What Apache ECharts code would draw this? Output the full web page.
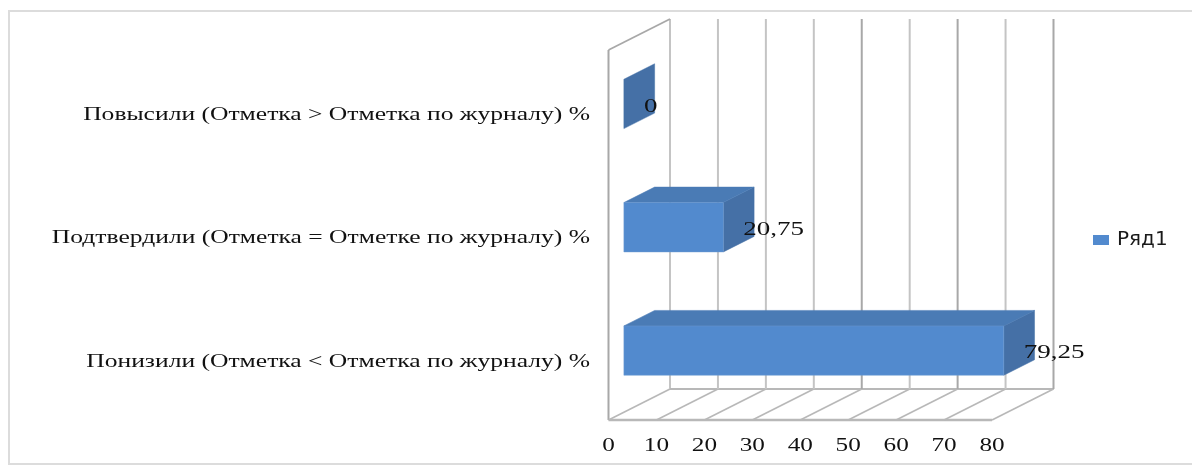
<!DOCTYPE html>
<html><head><meta charset="utf-8">
<style>html,body{margin:0;padding:0;background:#fff}#c{width:1192px;height:465px}</style>
<script src="https://cdn.jsdelivr.net/npm/echarts@6/dist/echarts.min.js"></script>
</head><body><div id="c"></div>
<script>
const categories = [
  'Понизили (Отметка < Отметка по журналу) %',
  'Подтвердили (Отметка = Отметке по журналу) %',
  'Повысили (Отметка > Отметка по журналу) %'
];
const values = [79.25, 20.75, 0];
const xTicks = [0, 10, 20, 30, 40, 50, 60, 70, 80];
const seriesName = 'Ряд1';

const DX = 61.5, DY = -31;           // oblique depth of the plot box
const FRONT = '#528ACE', TOP = '#4A7BB5', SIDE = '#4570A6';
const GRID = '#C4C4C4', FLOOR = '#B8B8B8', WALL = '#A8A8A8';
const DARK_TICKS = [40, 60, 80];
const SERIF = '"Liberation Serif"';

const chart = echarts.init(document.getElementById('c'), null, {renderer: 'canvas'});

function line(x1, y1, x2, y2, stroke, lineWidth) {
  return {type: 'line', shape: {x1, y1, x2, y2}, style: {stroke, lineWidth, fill: null}};
}
function poly(points, fill) {
  return {type: 'polygon', shape: {points}, style: {fill, stroke: fill, lineWidth: 0.5}};
}
function label(text, x, y, align, stretch) {
  return {type: 'text', x, y, scaleX: stretch, style: {
    text, fontFamily: SERIF, fontSize: 18, fill: '#111',
    align, verticalAlign: 'middle'}};
}

function renderBox(params, api) {
  const v = api.value(0);
  const bottom = api.coord([v, 0]);
  const band = api.size([0, 1])[1];
  const yBottom = bottom[1] + band / 2;
  const yTop = yBottom - band * 3;
  const x = bottom[0];
  const dark = DARK_TICKS.includes(v);
  const kids = [
    line(x, yBottom, x + DX, yBottom + DY, FLOOR, 1.6),
    line(x + DX, yTop + DY, x + DX, yBottom + DY, dark ? WALL : GRID, 2),
    label(String(v), x, yBottom + 26, 'center', 1.4)
  ];
  if (params.dataIndex === 0) {
    const xEnd = api.coord([xTicks[xTicks.length - 1], 0])[0];
    kids.push(line(x, yTop, x, yBottom, WALL, 2));
    kids.push(line(x, yTop, x + DX, yTop + DY, WALL, 1.8));
    kids.push(line(x, yBottom, xEnd, yBottom, FLOOR, 2.4));
    kids.push(line(x + DX, yBottom + DY, xEnd + DX, yBottom + DY, FLOOR, 2));
  }
  return {type: 'group', children: kids};
}

function renderBar(params, api) {
  const v = api.value(0);
  const c = api.value(1);
  const start = api.coord([0, c]);
  const end = api.coord([v, c]);
  const band = api.size([0, 1])[1];
  const h = band * 0.4;
  const ox = DX * 0.25, oy = DY * 0.25;   // front of the bar sits a quarter into the depth
  const bx = DX * 0.5, by = DY * 0.5;     // bar depth
  const x0 = start[0] + ox, x1 = end[0] + ox;
  const yT = start[1] + oy - h / 2, yB = start[1] + oy + h / 2;
  const kids = [];
  kids.push(poly([[x1, yT], [x1 + bx, yT + by], [x1 + bx, yB + by], [x1, yB]], SIDE));
  if (v > 0) {
    kids.push(poly([[x0, yT], [x0 + bx, yT + by], [x1 + bx, yT + by], [x1, yT]], TOP));
    kids.push({type: 'rect', shape: {x: x0, y: yT, width: x1 - x0, height: h},
      style: {fill: FRONT, stroke: '#6F9BD1', lineWidth: 0.5}});
  }
  kids.push(label(String(v).replace('.', ','), x1 + 20, (yT + yB) / 2 + 3, 'left', 1.5));
  return {type: 'group', children: kids};
}

function renderCat(params, api) {
  const i = api.value(0);
  const p = api.coord([0, i]);
  return label(categories[i], 590, p[1] + 3.5, 'right', 1.42);
}

chart.setOption({
  animation: false,
  backgroundColor: '#fff',
  graphic: [{type: 'rect', left: 8, top: 10, shape: {width: 1200, height: 453},
    style: {fill: '#fff', stroke: '#DCDCDC', lineWidth: 2}, z: -1}],
  grid: {left: 608.5, top: 50, width: 383.5, height: 370, containLabel: false},
  xAxis: {type: 'value', min: 0, max: 80, interval: 10,
    axisLine: {show: false}, axisTick: {show: false}, axisLabel: {show: false}, splitLine: {show: false}},
  yAxis: {type: 'category', data: categories,
    axisLine: {show: false}, axisTick: {show: false}, axisLabel: {show: false}, splitLine: {show: false}},
  legend: {data: [{name: seriesName, icon: 'rect'}], left: 1088, top: 225, itemWidth: 16, itemHeight: 10,
    textStyle: {fontFamily: '"DejaVu Sans"', fontSize: 20, color: '#1a1a1a', padding: [0, 0, 0, 3]}},
  series: [
    {type: 'custom', name: 'axes', silent: true, z: 1, encode: {x: 0},
      data: xTicks.map(t => [t]), renderItem: renderBox},
    {type: 'custom', name: 'labels', silent: true, z: 3,
      data: categories.map((_, i) => [i]), encode: {y: 0}, renderItem: renderCat},
    {type: 'custom', name: seriesName, z: 2, itemStyle: {color: FRONT}, encode: {x: 0, y: 1},
      data: values.map((v, i) => [v, i]), renderItem: renderBar}
  ]
});
</script></body></html>
